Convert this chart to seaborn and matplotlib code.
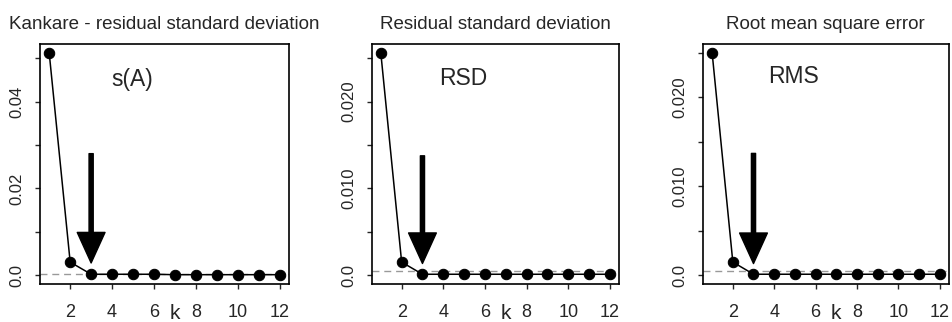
import numpy as np
import pandas as pd
import seaborn as sns
import matplotlib.pyplot as plt

# values
k = list(range(1, 13))
s_a = [0.0512, 0.0030, 0.0002, 0.0002, 0.0002, 0.0002, 0.0001, 0.0001, 0.0001, 0.0001, 0.0001, 0.0001]
rsd = [0.0256, 0.0015, 0.0001, 0.0001, 0.0001, 0.0001, 0.0001, 0.0001, 0.0001, 0.0001, 0.0001, 0.0001]
rms = [0.0250, 0.00147, 0.0001, 0.0001, 0.0001, 0.0001, 0.0001, 0.0001, 0.0001, 0.0001, 0.0001, 0.0001]
thresholds = [0.0003, 0.00045, 0.00045]

titles = ["Kankare - residual standard deviation", "Residual standard deviation", "Root mean square error"]
labels = ["s(A)", "RSD", "RMS"]
label_y = [0.045, 0.0227, 0.0223]
arrow_top = [0.028, 0.01375, 0.0137]
arrow_tip = [0.0028, 0.00134, 0.0013]
chosen_k = 3

ytick_step = [0.01, 0.005, 0.005]
ytick_labels = [["0.0", "", "0.02", "", "0.04", ""],
                ["0.0", "", "0.010", "", "0.020", ""],
                ["0.0", "", "0.010", "", "0.020", ""]]

sns.set_theme(style="ticks")
plt.rcParams['font.family'] = ['Liberation Sans', 'DejaVu Sans']

fig = plt.figure(figsize=(9.52, 3.22), dpi=100)
lefts = [0.042, 0.3904, 0.7385]
widths = [0.2616, 0.2598, 0.258]

for i, vals in enumerate([s_a, rsd, rms]):
    ax = fig.add_axes([lefts[i], 0.118, widths[i], 0.745])
    df = pd.DataFrame({'k': k, 'value': vals})
    sns.lineplot(data=df, x='k', y='value', ax=ax, color='black', linewidth=1.1,
                 marker='o', markersize=7.5, markeredgecolor='black', markerfacecolor='black')
    ax.axhline(thresholds[i], color='#999999', linestyle=(0, (5, 3.5)), linewidth=1, zorder=0)

    top = max(vals)
    pad = 0.04 * top
    ax.set_ylim(-pad, top + pad)
    ax.set_xlim(1 - 0.44, 12 + 0.44)

    yt = np.arange(6) * ytick_step[i]
    ax.set_yticks(yt)
    ax.set_yticklabels(ytick_labels[i], rotation=90, va='center')
    ax.set_xticks([2, 4, 6, 8, 10, 12])
    ax.tick_params(axis='x', length=3.6, width=1, pad=10.5, labelsize=13)
    ax.tick_params(axis='y', length=3.6, width=1, pad=7.5, labelsize=12)
    ax.set_xlabel("")
    ax.set_ylabel("")
    for sp in ax.spines.values():
        sp.set_visible(True)
        sp.set_linewidth(1.2)
        sp.set_color('black')

    ax.text(7, -0.125, "k", transform=ax.get_xaxis_transform(), ha='center', va='center', fontsize=15)
    ax.set_title(titles[i], fontsize=13.5, pad=11)
    ax.text(4.95, label_y[i], labels[i], ha='center', va='center', fontsize=16.5)
    ax.annotate("", xy=(chosen_k, arrow_tip[i]), xytext=(chosen_k, arrow_top[i]),
                arrowprops=dict(arrowstyle='simple,head_length=1.1,head_width=1.0,tail_width=0.15',
                                color='black', shrinkA=0, shrinkB=0, mutation_scale=20))

fig.savefig("out.png", dpi=100)
